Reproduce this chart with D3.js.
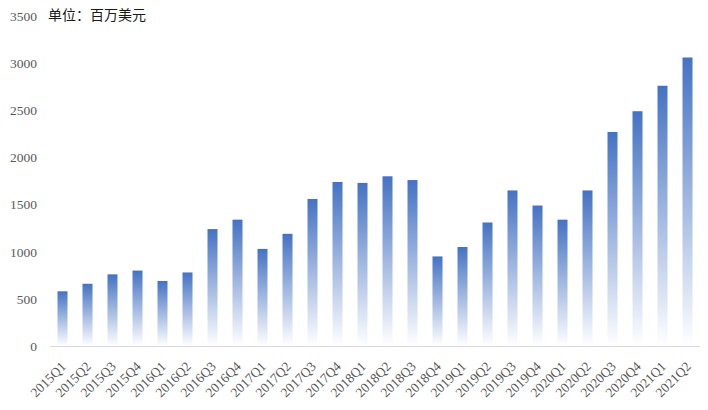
<!DOCTYPE html>
<html>
<head>
<meta charset="utf-8">
<script src="https://cdn.jsdelivr.net/npm/d3@7"></script>
<style>
  html, body { margin: 0; padding: 0; background: #fff; }
  svg { display: block; }
  .tick text { font-family: "Liberation Serif", "Times New Roman", serif; font-size: 13.5px; fill: #595959; }
</style>
</head>
<body>
<svg id="chart" width="708" height="410"></svg>
<script>
const categories = ["2015Q1","2015Q2","2015Q3","2015Q4","2016Q1","2016Q2","2016Q3","2016Q4",
  "2017Q1","2017Q2","2017Q3","2017Q4","2018Q1","2018Q2","2018Q3","2018Q4",
  "2019Q1","2019Q2","2019Q3","2019Q4","2020Q1","2020Q2","2020Q3","2020Q4","2021Q1","2021Q2"];
const values = [580, 660, 760, 800, 690, 780, 1240, 1340,
  1030, 1190, 1560, 1740, 1730, 1800, 1760, 950,
  1050, 1310, 1650, 1490, 1340, 1650, 2270, 2490, 2760, 3060];
const yTicks = [0, 500, 1000, 1500, 2000, 2500, 3000, 3500];
const unitLabel = "单位：百万美元";

const svg = d3.select("#chart");
const x = d3.scaleBand().domain(categories).range([50, 700]).paddingInner(0.6).paddingOuter(0.3);
const y = d3.scaleLinear().domain([0, 3500]).range([346, 16]);

const defs = svg.append("defs");
const grad = defs.append("linearGradient").attr("id", "barGrad")
  .attr("x1", 0).attr("y1", 0).attr("x2", 0).attr("y2", 1);
grad.append("stop").attr("offset", "0%").attr("stop-color", "#4472C4");
grad.append("stop").attr("offset", "100%").attr("stop-color", "#ffffff");

// bars
svg.append("g").selectAll("rect").data(values).join("rect")
  .attr("x", (d, i) => x(categories[i]))
  .attr("y", d => y(d))
  .attr("width", x.bandwidth())
  .attr("height", d => y(0) - y(d))
  .attr("fill", "url(#barGrad)");

// x axis
const xAxis = svg.append("g").attr("transform", `translate(0,${y(0)})`)
  .call(d3.axisBottom(x).tickSize(0).tickSizeOuter(0));
xAxis.attr("font-family", null).attr("font-size", null);
xAxis.select(".domain").attr("stroke", "#d9d9d9").attr("stroke-width", 1)
  .attr("d", "M50,0.5H700");
xAxis.selectAll("text")
  .attr("text-anchor", "end")
  .attr("dy", "0.35em")
  .attr("y", 0).attr("x", 0)
  .attr("transform", "translate(1,18) rotate(-45)");

// y axis
const yAxis = svg.append("g").attr("transform", "translate(37,0)")
  .call(d3.axisLeft(y).tickValues(yTicks).tickFormat(d3.format("d")).tickSize(0).tickPadding(0));
yAxis.attr("font-family", null).attr("font-size", null);
yAxis.select(".domain").remove();

// unit label
svg.append("text")
  .attr("x", 48).attr("y", 16)
  .attr("dominant-baseline", "middle")
  .style("font-family", "'Noto Sans CJK SC', sans-serif")
  .style("font-size", "14px")
  .attr("fill", "#1a1a1a")
  .text(unitLabel);
</script>
</body>
</html>
